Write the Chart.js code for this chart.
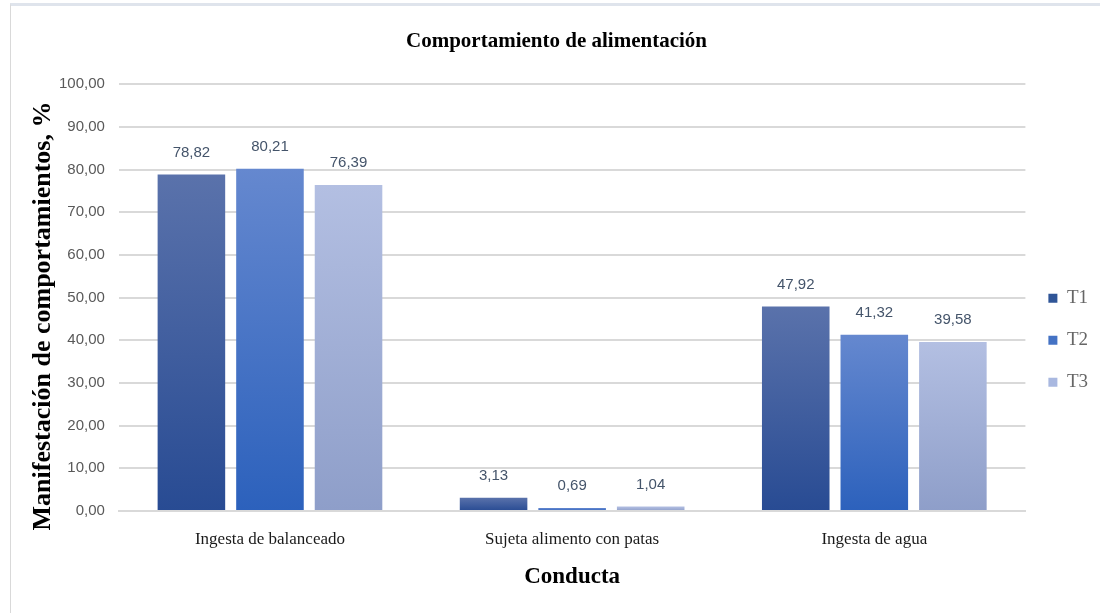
<!DOCTYPE html>
<html>
<head>
<meta charset="utf-8">
<script src="https://cdn.jsdelivr.net/npm/chart.js@4.4.1/dist/chart.umd.min.js"></script>
<style>
  html, body { margin: 0; padding: 0; background: #ffffff; }
  #frame { position: absolute; left: 10px; top: 3px; width: 1100px; height: 620px;
           border-left: 1px solid #d9d9d9; border-top: 3px solid #dfe4ec; box-sizing: border-box; }
  #wrap { position: absolute; left: 0; top: 0; width: 1100px; height: 613px; }
</style>
</head>
<body>
<div id="frame"></div>
<div id="wrap"><canvas id="c" width="1100" height="613"></canvas></div>
<script>
const categories = ["Ingesta de balanceado", "Sujeta alimento con patas", "Ingesta de agua"];
const seriesNames = ["T1", "T2", "T3"];
const t1Values = [78.82, 3.13, 47.92];
const t2Values = [80.21, 0.69, 41.32];
const t3Values = [76.39, 1.04, 39.58];
const yTicks = [0, 10, 20, 30, 40, 50, 60, 70, 80, 90, 100];
const yAxisTitle = "Manifestación de comportamientos, %";

const gradStops = [
  { top: "#5a72ab", bottom: "#284b93", solid: "#2f5597" },
  { top: "#6588cf", bottom: "#2c61bc", solid: "#4472c4" },
  { top: "#b3bfe2", bottom: "#8e9ec9", solid: "#a9b8e0" }
];

function fmt(v) { return v.toFixed(2).replace(".", ","); }

function barGradient(i) {
  return function(ctx) {
    const chart = ctx.chart;
    const st = gradStops[i];
    if (!chart.chartArea || ctx.type !== "data") return st.solid;
    const ys = chart.scales.y;
    const top = ys.getPixelForValue(ctx.raw);
    const bottom = ys.getPixelForValue(0);
    if (!isFinite(top) || bottom - top < 1) return st.solid;
    const g = chart.ctx.createLinearGradient(0, top, 0, bottom);
    g.addColorStop(0, st.top);
    g.addColorStop(1, st.bottom);
    return g;
  };
}

const labelPlugin = {
  id: "valueLabels",
  afterDatasetsDraw(chart) {
    const ctx = chart.ctx;
    ctx.save();
    ctx.font = "15px 'Liberation Sans', sans-serif";
    ctx.fillStyle = "#44546a";
    ctx.textAlign = "center";
    ctx.textBaseline = "middle";
    chart.data.datasets.forEach((ds, di) => {
      const meta = chart.getDatasetMeta(di);
      meta.data.forEach((el, i) => {
        ctx.fillText(fmt(ds.data[i]), el.x, el.y - 22);
      });
    });
    ctx.restore();
  }
};

const yTitlePlugin = {
  id: "yTitle",
  afterDraw(chart) {
    const ctx = chart.ctx;
    ctx.save();
    ctx.translate(43, 316);
    ctx.rotate(-Math.PI / 2);
    ctx.font = "bold 26px 'Liberation Serif', 'Times New Roman', serif";
    ctx.fillStyle = "#000000";
    ctx.textAlign = "center";
    ctx.textBaseline = "middle";
    ctx.fillText(yAxisTitle, 0, 0);
    ctx.restore();
  }
};

const allValues = [t1Values, t2Values, t3Values];
const datasets = seriesNames.map((name, i) => ({
  label: name,
  data: allValues[i],
  backgroundColor: barGradient(i),
  borderWidth: 0,
  categoryPercentage: 0.78,
  barPercentage: 0.86
}));

new Chart(document.getElementById("c"), {
  type: "bar",
  data: { labels: categories, datasets: datasets },
  plugins: [labelPlugin, yTitlePlugin],
  options: {
    responsive: false,
    animation: false,
    devicePixelRatio: 1,
    layout: { padding: { left: 15, right: 2, top: 12, bottom: 18 } },
    plugins: {
      tooltip: { enabled: false },
      title: {
        display: true,
        text: "Comportamiento de alimentación",
        color: "#000000",
        font: { family: "'Liberation Serif', 'Times New Roman', serif", size: 21, weight: "bold" },
        padding: { top: 17, bottom: 30 }
      },
      legend: {
        display: true,
        position: "right",
        align: "center",
        title: { display: true, text: " ", padding: { top: 26, bottom: 26 },
                 font: { size: 18 } },
        labels: {
          color: "#000000",
          font: { family: "'Liberation Serif', 'Times New Roman', serif", size: 19 },
          boxWidth: 9,
          boxHeight: 9,
          padding: 23,
          generateLabels(chart) {
            return chart.data.datasets.map((ds, i) => ({
              text: ds.label,
              fillStyle: gradStops[i].solid,
              strokeStyle: gradStops[i].solid,
              lineWidth: 0,
              hidden: false,
              datasetIndex: i
            }));
          }
        }
      }
    },
    scales: {
      x: {
        grid: { display: false, drawTicks: false },
        border: { display: true, color: "#d9d9d9", width: 2 },
        ticks: {
          color: "#1a1a1a",
          padding: 18,
          font: { family: "'Liberation Serif', 'Times New Roman', serif", size: 17 }
        },
        title: {
          display: true,
          text: "Conducta",
          color: "#000000",
          font: { family: "'Liberation Serif', 'Times New Roman', serif", size: 23, weight: "bold" },
          padding: { top: -4, bottom: 4 }
        }
      },
      y: {
        min: 0,
        max: 100,
        afterBuildTicks(axis) { axis.ticks = yTicks.map(v => ({ value: v })); },
        afterFit(axis) { axis.width += 30; },
        grid: { color: "#d9d9d9", lineWidth: 2, drawTicks: false },
        border: { display: false },
        ticks: {
          color: "#595959",
          padding: 14,
          font: { family: "'Liberation Sans', sans-serif", size: 15 },
          callback: (v) => fmt(v)
        },
        title: { display: false }
      }
    }
  }
});
</script>
</body>
</html>
